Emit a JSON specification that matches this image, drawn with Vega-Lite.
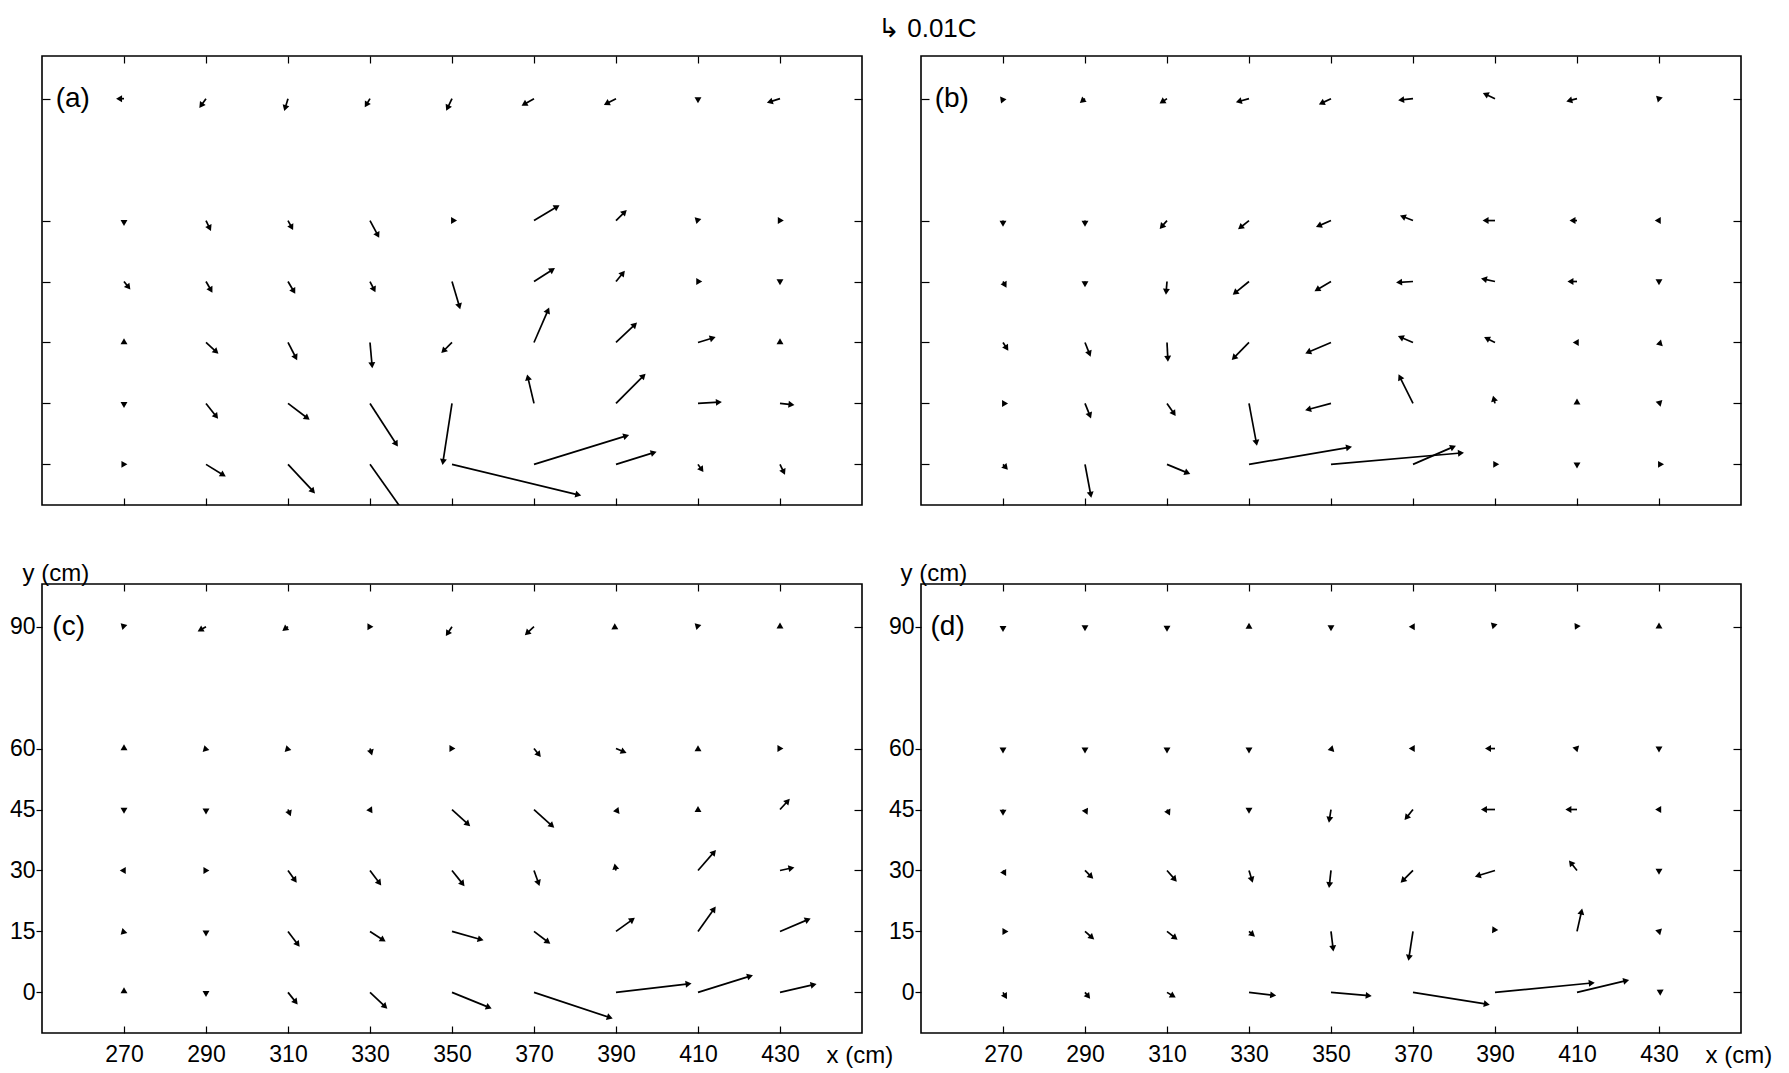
{
  "$schema": "https://vega.github.io/schema/vega-lite/v6.json",
  "background": "white",
  "padding": {"left": 8, "top": 15, "right": 5, "bottom": 5},
  "title": {
    "text": "↳ 0.01C",
    "anchor": "start",
    "frame": "group",
    "dx": 836,
    "offset": -13,
    "baseline": "bottom",
    "font": "Liberation Sans",
    "fontSize": 26,
    "fontWeight": "normal",
    "color": "black"
  },
  "datasets": {
    "vec": [
      {"p":"a","x":270,"y":90,"xe":268.8,"ye":90},
      {"p":"a","x":290,"y":90,"xe":288.8,"ye":88.3},
      {"p":"a","x":310,"y":90,"xe":309.3,"ye":87.7},
      {"p":"a","x":330,"y":90,"xe":329.1,"ye":88.5},
      {"p":"a","x":350,"y":90,"xe":348.9,"ye":87.7},
      {"p":"a","x":370,"y":90,"xe":367.6,"ye":88.6},
      {"p":"a","x":390,"y":90,"xe":387.7,"ye":88.8},
      {"p":"a","x":410,"y":90,"xe":410,"ye":89.6},
      {"p":"a","x":430,"y":90,"xe":427.5,"ye":89.2},
      {"p":"a","x":270,"y":60,"xe":270,"ye":59.4},
      {"p":"a","x":290,"y":60,"xe":290.9,"ye":58.1},
      {"p":"a","x":310,"y":60,"xe":310.9,"ye":58.3},
      {"p":"a","x":330,"y":60,"xe":331.9,"ye":56.4},
      {"p":"a","x":350,"y":60,"xe":350.5,"ye":60},
      {"p":"a","x":370,"y":60,"xe":375.6,"ye":63.4},
      {"p":"a","x":390,"y":60,"xe":392.1,"ye":62.1},
      {"p":"a","x":410,"y":60,"xe":409.7,"ye":60.3},
      {"p":"a","x":430,"y":60,"xe":430.2,"ye":60},
      {"p":"a","x":270,"y":45,"xe":271.1,"ye":43.6},
      {"p":"a","x":290,"y":45,"xe":291.2,"ye":42.9},
      {"p":"a","x":310,"y":45,"xe":311.4,"ye":42.6},
      {"p":"a","x":330,"y":45,"xe":331,"ye":43},
      {"p":"a","x":350,"y":45,"xe":351.8,"ye":38.9},
      {"p":"a","x":370,"y":45,"xe":374.5,"ye":47.9},
      {"p":"a","x":390,"y":45,"xe":391.7,"ye":47.1},
      {"p":"a","x":410,"y":45,"xe":410.3,"ye":45},
      {"p":"a","x":430,"y":45,"xe":430,"ye":44.8},
      {"p":"a","x":270,"y":30,"xe":270,"ye":30.3},
      {"p":"a","x":290,"y":30,"xe":292.5,"ye":27.7},
      {"p":"a","x":310,"y":30,"xe":311.9,"ye":26.3},
      {"p":"a","x":330,"y":30,"xe":330.5,"ye":24.4},
      {"p":"a","x":350,"y":30,"xe":347.9,"ye":27.9},
      {"p":"a","x":370,"y":30,"xe":373.4,"ye":37.9},
      {"p":"a","x":390,"y":30,"xe":394.6,"ye":34.4},
      {"p":"a","x":410,"y":30,"xe":413.6,"ye":31.1},
      {"p":"a","x":430,"y":30,"xe":430,"ye":30.3},
      {"p":"a","x":270,"y":15,"xe":270,"ye":14.6},
      {"p":"a","x":290,"y":15,"xe":292.5,"ye":11.8},
      {"p":"a","x":310,"y":15,"xe":314.7,"ye":11.4},
      {"p":"a","x":330,"y":15,"xe":336.4,"ye":5},
      {"p":"a","x":350,"y":15,"xe":347.8,"ye":0.6},
      {"p":"a","x":370,"y":15,"xe":368.5,"ye":21.4},
      {"p":"a","x":390,"y":15,"xe":396.7,"ye":21.8},
      {"p":"a","x":410,"y":15,"xe":415.1,"ye":15.3},
      {"p":"a","x":430,"y":15,"xe":432.8,"ye":14.7},
      {"p":"a","x":270,"y":0,"xe":270.1,"ye":0},
      {"p":"a","x":290,"y":0,"xe":294.2,"ye":-2.6},
      {"p":"a","x":310,"y":0,"xe":316.1,"ye":-6.6},
      {"p":"a","x":330,"y":0,"xe":339.5,"ye":-13.5},
      {"p":"a","x":350,"y":0,"xe":380.8,"ye":-7.5},
      {"p":"a","x":370,"y":0,"xe":392.5,"ye":7},
      {"p":"a","x":390,"y":0,"xe":399.2,"ye":2.9},
      {"p":"a","x":410,"y":0,"xe":410.9,"ye":-1.3},
      {"p":"a","x":430,"y":0,"xe":430.9,"ye":-1.9},

      {"p":"b","x":270,"y":90,"xe":269.8,"ye":89.5},
      {"p":"b","x":290,"y":90,"xe":289.3,"ye":89.4},
      {"p":"b","x":310,"y":90,"xe":308.8,"ye":89.2},
      {"p":"b","x":330,"y":90,"xe":327.5,"ye":89.3},
      {"p":"b","x":350,"y":90,"xe":347.7,"ye":88.9},
      {"p":"b","x":370,"y":90,"xe":367.1,"ye":89.7},
      {"p":"b","x":390,"y":90,"xe":387.7,"ye":91.1},
      {"p":"b","x":410,"y":90,"xe":408.1,"ye":89.5},
      {"p":"b","x":430,"y":90,"xe":429.8,"ye":90.2},
      {"p":"b","x":270,"y":60,"xe":270,"ye":59.2},
      {"p":"b","x":290,"y":60,"xe":290,"ye":59.2},
      {"p":"b","x":310,"y":60,"xe":308.7,"ye":58.5},
      {"p":"b","x":330,"y":60,"xe":327.9,"ye":58.3},
      {"p":"b","x":350,"y":60,"xe":347,"ye":58.7},
      {"p":"b","x":370,"y":60,"xe":367.5,"ye":61},
      {"p":"b","x":390,"y":60,"xe":387.7,"ye":60},
      {"p":"b","x":410,"y":60,"xe":408.9,"ye":60},
      {"p":"b","x":430,"y":60,"xe":429.7,"ye":60},
      {"p":"b","x":270,"y":45,"xe":270.5,"ye":44.1},
      {"p":"b","x":290,"y":45,"xe":290,"ye":44.3},
      {"p":"b","x":310,"y":45,"xe":309.8,"ye":42.5},
      {"p":"b","x":330,"y":45,"xe":326.6,"ye":42.2},
      {"p":"b","x":350,"y":45,"xe":346.6,"ye":43},
      {"p":"b","x":370,"y":45,"xe":366.6,"ye":44.8},
      {"p":"b","x":390,"y":45,"xe":387.3,"ye":45.6},
      {"p":"b","x":410,"y":45,"xe":408.4,"ye":45},
      {"p":"b","x":430,"y":45,"xe":430,"ye":44.8},
      {"p":"b","x":270,"y":30,"xe":270.9,"ye":28.6},
      {"p":"b","x":290,"y":30,"xe":291.1,"ye":27.2},
      {"p":"b","x":310,"y":30,"xe":310.2,"ye":26},
      {"p":"b","x":330,"y":30,"xe":326.3,"ye":26.2},
      {"p":"b","x":350,"y":30,"xe":344.4,"ye":27.6},
      {"p":"b","x":370,"y":30,"xe":367,"ye":31.3},
      {"p":"b","x":390,"y":30,"xe":388,"ye":31},
      {"p":"b","x":410,"y":30,"xe":409.7,"ye":30},
      {"p":"b","x":430,"y":30,"xe":430.4,"ye":29.6},
      {"p":"b","x":270,"y":15,"xe":270.5,"ye":15},
      {"p":"b","x":290,"y":15,"xe":291.2,"ye":12},
      {"p":"b","x":310,"y":15,"xe":311.7,"ye":12.5},
      {"p":"b","x":330,"y":15,"xe":331.8,"ye":5.3},
      {"p":"b","x":350,"y":15,"xe":344.4,"ye":13.5},
      {"p":"b","x":370,"y":15,"xe":366.8,"ye":21.5},
      {"p":"b","x":390,"y":15,"xe":389.7,"ye":16.2},
      {"p":"b","x":410,"y":15,"xe":410,"ye":15.5},
      {"p":"b","x":430,"y":15,"xe":430.3,"ye":15.3},
      {"p":"b","x":270,"y":0,"xe":270.7,"ye":-0.8},
      {"p":"b","x":290,"y":0,"xe":291.4,"ye":-7.5},
      {"p":"b","x":310,"y":0,"xe":315,"ye":-2.1},
      {"p":"b","x":330,"y":0,"xe":354.4,"ye":4.2},
      {"p":"b","x":350,"y":0,"xe":381.7,"ye":2.8},
      {"p":"b","x":370,"y":0,"xe":379.8,"ye":4.3},
      {"p":"b","x":390,"y":0,"xe":390.3,"ye":0},
      {"p":"b","x":410,"y":0,"xe":410,"ye":-0.3},
      {"p":"b","x":430,"y":0,"xe":430.5,"ye":0},

      {"p":"c","x":270,"y":90,"xe":269.7,"ye":90.3},
      {"p":"c","x":290,"y":90,"xe":288.6,"ye":89.2},
      {"p":"c","x":310,"y":90,"xe":309.2,"ye":89.4},
      {"p":"c","x":330,"y":90,"xe":330.1,"ye":90},
      {"p":"c","x":350,"y":90,"xe":348.9,"ye":88.3},
      {"p":"c","x":370,"y":90,"xe":368.3,"ye":88.4},
      {"p":"c","x":390,"y":90,"xe":389.5,"ye":89.7},
      {"p":"c","x":410,"y":90,"xe":409.7,"ye":90.3},
      {"p":"c","x":430,"y":90,"xe":430,"ye":90.3},
      {"p":"c","x":270,"y":60,"xe":270,"ye":60.3},
      {"p":"c","x":290,"y":60,"xe":289.7,"ye":59.7},
      {"p":"c","x":310,"y":60,"xe":309.7,"ye":59.7},
      {"p":"c","x":330,"y":60,"xe":330.3,"ye":59},
      {"p":"c","x":350,"y":60,"xe":350.1,"ye":60},
      {"p":"c","x":370,"y":60,"xe":371.2,"ye":58.5},
      {"p":"c","x":390,"y":60,"xe":391.9,"ye":59.2},
      {"p":"c","x":410,"y":60,"xe":410,"ye":60.1},
      {"p":"c","x":430,"y":60,"xe":430.1,"ye":60},
      {"p":"c","x":270,"y":45,"xe":270,"ye":44.7},
      {"p":"c","x":290,"y":45,"xe":290,"ye":44.5},
      {"p":"c","x":310,"y":45,"xe":310.4,"ye":44},
      {"p":"c","x":330,"y":45,"xe":330.2,"ye":44.7},
      {"p":"c","x":350,"y":45,"xe":353.9,"ye":41.4},
      {"p":"c","x":370,"y":45,"xe":374.4,"ye":41},
      {"p":"c","x":390,"y":45,"xe":390.4,"ye":44.5},
      {"p":"c","x":410,"y":45,"xe":410,"ye":45.1},
      {"p":"c","x":430,"y":45,"xe":431.9,"ye":47.1},
      {"p":"c","x":270,"y":30,"xe":269.7,"ye":30},
      {"p":"c","x":290,"y":30,"xe":290.1,"ye":30},
      {"p":"c","x":310,"y":30,"xe":311.7,"ye":27.6},
      {"p":"c","x":330,"y":30,"xe":332.3,"ye":26.9},
      {"p":"c","x":350,"y":30,"xe":352.6,"ye":26.7},
      {"p":"c","x":370,"y":30,"xe":371.1,"ye":26.9},
      {"p":"c","x":390,"y":30,"xe":389.8,"ye":31},
      {"p":"c","x":410,"y":30,"xe":413.9,"ye":34.5},
      {"p":"c","x":430,"y":30,"xe":432.8,"ye":30.6},
      {"p":"c","x":270,"y":15,"xe":269.7,"ye":14.7},
      {"p":"c","x":290,"y":15,"xe":290,"ye":14.5},
      {"p":"c","x":310,"y":15,"xe":312.4,"ye":11.8},
      {"p":"c","x":330,"y":15,"xe":333.2,"ye":12.9},
      {"p":"c","x":350,"y":15,"xe":357,"ye":13},
      {"p":"c","x":370,"y":15,"xe":373.4,"ye":12.4},
      {"p":"c","x":390,"y":15,"xe":394,"ye":17.9},
      {"p":"c","x":410,"y":15,"xe":413.9,"ye":20.5},
      {"p":"c","x":430,"y":15,"xe":436.8,"ye":17.9},
      {"p":"c","x":270,"y":0,"xe":270,"ye":0.5},
      {"p":"c","x":290,"y":0,"xe":290,"ye":-0.4},
      {"p":"c","x":310,"y":0,"xe":311.9,"ye":-2.4},
      {"p":"c","x":330,"y":0,"xe":333.7,"ye":-3.5},
      {"p":"c","x":350,"y":0,"xe":359,"ye":-3.7},
      {"p":"c","x":370,"y":0,"xe":388.5,"ye":-6.2},
      {"p":"c","x":390,"y":0,"xe":407.7,"ye":2.1},
      {"p":"c","x":410,"y":0,"xe":422.7,"ye":4},
      {"p":"c","x":430,"y":0,"xe":438.2,"ye":1.9},

      {"p":"d","x":270,"y":90,"xe":270,"ye":89.4},
      {"p":"d","x":290,"y":90,"xe":290,"ye":89.6},
      {"p":"d","x":310,"y":90,"xe":310,"ye":89.5},
      {"p":"d","x":330,"y":90,"xe":330,"ye":90.2},
      {"p":"d","x":350,"y":90,"xe":350,"ye":89.6},
      {"p":"d","x":370,"y":90,"xe":369.7,"ye":90},
      {"p":"d","x":390,"y":90,"xe":389.5,"ye":90.5},
      {"p":"d","x":410,"y":90,"xe":409.8,"ye":90.3},
      {"p":"d","x":430,"y":90,"xe":430,"ye":90.3},
      {"p":"d","x":270,"y":60,"xe":270,"ye":59.5},
      {"p":"d","x":290,"y":60,"xe":290,"ye":59.5},
      {"p":"d","x":310,"y":60,"xe":310,"ye":59.5},
      {"p":"d","x":330,"y":60,"xe":330,"ye":59.5},
      {"p":"d","x":350,"y":60,"xe":350.3,"ye":59.7},
      {"p":"d","x":370,"y":60,"xe":369.7,"ye":60},
      {"p":"d","x":390,"y":60,"xe":388.3,"ye":60},
      {"p":"d","x":410,"y":60,"xe":409.6,"ye":60.1},
      {"p":"d","x":430,"y":60,"xe":430,"ye":59.8},
      {"p":"d","x":270,"y":45,"xe":270,"ye":44.2},
      {"p":"d","x":290,"y":45,"xe":290.3,"ye":44.4},
      {"p":"d","x":310,"y":45,"xe":310.4,"ye":44.2},
      {"p":"d","x":330,"y":45,"xe":330,"ye":44.7},
      {"p":"d","x":350,"y":45,"xe":349.6,"ye":42.5},
      {"p":"d","x":370,"y":45,"xe":368.4,"ye":43},
      {"p":"d","x":390,"y":45,"xe":387.3,"ye":45},
      {"p":"d","x":410,"y":45,"xe":407.9,"ye":45},
      {"p":"d","x":430,"y":45,"xe":429.8,"ye":45},
      {"p":"d","x":270,"y":30,"xe":270.4,"ye":29.3},
      {"p":"d","x":290,"y":30,"xe":291.5,"ye":28.5},
      {"p":"d","x":310,"y":30,"xe":311.9,"ye":27.8},
      {"p":"d","x":330,"y":30,"xe":330.7,"ye":27.7},
      {"p":"d","x":350,"y":30,"xe":349.6,"ye":26.4},
      {"p":"d","x":370,"y":30,"xe":367.5,"ye":27.5},
      {"p":"d","x":390,"y":30,"xe":385.8,"ye":28.7},
      {"p":"d","x":410,"y":30,"xe":408.5,"ye":31.9},
      {"p":"d","x":430,"y":30,"xe":430,"ye":29.7},
      {"p":"d","x":270,"y":15,"xe":270.6,"ye":15},
      {"p":"d","x":290,"y":15,"xe":291.7,"ye":13.5},
      {"p":"d","x":310,"y":15,"xe":312,"ye":13.4},
      {"p":"d","x":330,"y":15,"xe":330.9,"ye":14.2},
      {"p":"d","x":350,"y":15,"xe":350.5,"ye":10.8},
      {"p":"d","x":370,"y":15,"xe":369,"ye":8.5},
      {"p":"d","x":390,"y":15,"xe":389.7,"ye":15.6},
      {"p":"d","x":410,"y":15,"xe":411.1,"ye":19.9},
      {"p":"d","x":430,"y":15,"xe":430.2,"ye":15.2},
      {"p":"d","x":270,"y":0,"xe":270.6,"ye":-1},
      {"p":"d","x":290,"y":0,"xe":290.8,"ye":-1},
      {"p":"d","x":310,"y":0,"xe":311.5,"ye":-0.9},
      {"p":"d","x":330,"y":0,"xe":335.9,"ye":-0.7},
      {"p":"d","x":350,"y":0,"xe":359.2,"ye":-0.8},
      {"p":"d","x":370,"y":0,"xe":388,"ye":-2.9},
      {"p":"d","x":390,"y":0,"xe":413.6,"ye":2.3},
      {"p":"d","x":410,"y":0,"xe":422,"ye":2.9},
      {"p":"d","x":430,"y":0,"xe":430.5,"ye":0.3}
    ]
  },
  "columns": 2,
  "bounds": "flush",
  "spacing": {"row": 79, "column": 59},
  "concat": [
    {
      "width": 820, "height": 449,
      "layer": [
        {
          "data": {"name": "vec"},
          "transform": [{"filter": "datum.p === 'a'"}],
          "mark": {"type": "rule", "clip": true, "color": "black", "strokeWidth": 1.7},
          "encoding": {
            "x": {"field": "x", "type": "quantitative", "scale": {"domain": [250, 450], "nice": false, "zero": false},
                  "axis": {"orient": "bottom", "values": [270, 290, 310, 330, 350, 370, 390, 410, 430], "labels": false, "tickSize": -7, "title": null}},
            "y": {"field": "y", "type": "quantitative", "scale": {"domain": [-10, 100.5], "nice": false, "zero": false},
                  "axis": {"orient": "left", "values": [0, 15, 30, 45, 60, 90], "labels": false, "tickSize": -8, "title": null}},
            "x2": {"field": "xe"},
            "y2": {"field": "ye"}
          }
        },
        {
          "data": {"name": "vec"},
          "transform": [
            {"filter": "datum.p === 'a'"},
            {"calculate": "atan2(datum.xe - datum.x, datum.ye - datum.y) * 180 / PI", "as": "ang"}
          ],
          "mark": {"type": "point", "shape": "triangle-up", "filled": true, "clip": true, "color": "black", "opacity": 1, "size": 48, "strokeWidth": 0},
          "encoding": {
            "x": {"field": "xe", "type": "quantitative",
                  "axis": {"orient": "top", "values": [270, 290, 310, 330, 350, 370, 390, 410, 430], "labels": false, "tickSize": -7, "title": null}},
            "y": {"field": "ye", "type": "quantitative",
                  "axis": {"orient": "right", "values": [0, 15, 30, 45, 60, 90], "labels": false, "tickSize": -8, "title": null}},
            "angle": {"field": "ang", "type": "quantitative", "scale": null}
          }
        },
        {
          "data": {"values": [{"t": "(a)"}]},
          "mark": {"type": "text", "font": "Liberation Sans", "fontSize": 28, "color": "black", "align": "center", "baseline": "middle"},
          "encoding": {
            "x": {"datum": 257.5, "type": "quantitative", "axis": null},
            "y": {"datum": 90, "type": "quantitative", "axis": null},
            "text": {"field": "t"}
          }
        }
      ],
      "resolve": {"axis": {"x": "independent", "y": "independent"}}
    },
    {
      "width": 820, "height": 449,
      "layer": [
        {
          "data": {"name": "vec"},
          "transform": [{"filter": "datum.p === 'b'"}],
          "mark": {"type": "rule", "clip": true, "color": "black", "strokeWidth": 1.7},
          "encoding": {
            "x": {"field": "x", "type": "quantitative", "scale": {"domain": [250, 450], "nice": false, "zero": false},
                  "axis": {"orient": "bottom", "values": [270, 290, 310, 330, 350, 370, 390, 410, 430], "labels": false, "tickSize": -7, "title": null}},
            "y": {"field": "y", "type": "quantitative", "scale": {"domain": [-10, 100.5], "nice": false, "zero": false},
                  "axis": {"orient": "left", "values": [0, 15, 30, 45, 60, 90], "labels": false, "tickSize": -8, "title": null}},
            "x2": {"field": "xe"},
            "y2": {"field": "ye"}
          }
        },
        {
          "data": {"name": "vec"},
          "transform": [
            {"filter": "datum.p === 'b'"},
            {"calculate": "atan2(datum.xe - datum.x, datum.ye - datum.y) * 180 / PI", "as": "ang"}
          ],
          "mark": {"type": "point", "shape": "triangle-up", "filled": true, "clip": true, "color": "black", "opacity": 1, "size": 48, "strokeWidth": 0},
          "encoding": {
            "x": {"field": "xe", "type": "quantitative",
                  "axis": {"orient": "top", "values": [270, 290, 310, 330, 350, 370, 390, 410, 430], "labels": false, "tickSize": -7, "title": null}},
            "y": {"field": "ye", "type": "quantitative",
                  "axis": {"orient": "right", "values": [0, 15, 30, 45, 60, 90], "labels": false, "tickSize": -8, "title": null}},
            "angle": {"field": "ang", "type": "quantitative", "scale": null}
          }
        },
        {
          "data": {"values": [{"t": "(b)"}]},
          "mark": {"type": "text", "font": "Liberation Sans", "fontSize": 28, "color": "black", "align": "center", "baseline": "middle"},
          "encoding": {
            "x": {"datum": 257.5, "type": "quantitative", "axis": null},
            "y": {"datum": 90, "type": "quantitative", "axis": null},
            "text": {"field": "t"}
          }
        }
      ],
      "resolve": {"axis": {"x": "independent", "y": "independent"}}
    },
    {
      "width": 820, "height": 449,
      "layer": [
        {
          "data": {"name": "vec"},
          "transform": [{"filter": "datum.p === 'c'"}],
          "mark": {"type": "rule", "clip": true, "color": "black", "strokeWidth": 1.7},
          "encoding": {
            "x": {"field": "x", "type": "quantitative", "scale": {"domain": [250, 450], "nice": false, "zero": false},
                  "axis": {"orient": "bottom", "values": [270, 290, 310, 330, 350, 370, 390, 410, 430], "tickSize": -7, "labelPadding": 17,
                           "title": "x (cm)", "titleX": 784, "titleY": 29, "titleAlign": "left", "titleBaseline": "alphabetic"}},
            "y": {"field": "y", "type": "quantitative", "scale": {"domain": [-10, 100.5], "nice": false, "zero": false},
                  "axis": {"orient": "left", "values": [0, 15, 30, 45, 60, 90], "tickSize": 6, "labelPadding": 1,
                           "title": "y (cm)", "titleX": -20, "titleY": -4, "titleAngle": 0, "titleAlign": "left", "titleBaseline": "alphabetic"}},
            "x2": {"field": "xe"},
            "y2": {"field": "ye"}
          }
        },
        {
          "data": {"name": "vec"},
          "transform": [
            {"filter": "datum.p === 'c'"},
            {"calculate": "atan2(datum.xe - datum.x, datum.ye - datum.y) * 180 / PI", "as": "ang"}
          ],
          "mark": {"type": "point", "shape": "triangle-up", "filled": true, "clip": true, "color": "black", "opacity": 1, "size": 48, "strokeWidth": 0},
          "encoding": {
            "x": {"field": "xe", "type": "quantitative",
                  "axis": {"orient": "top", "values": [270, 290, 310, 330, 350, 370, 390, 410, 430], "labels": false, "tickSize": -7, "title": null}},
            "y": {"field": "ye", "type": "quantitative",
                  "axis": {"orient": "right", "values": [0, 15, 30, 45, 60, 90], "labels": false, "tickSize": -8, "title": null}},
            "angle": {"field": "ang", "type": "quantitative", "scale": null}
          }
        },
        {
          "data": {"values": [{"t": "(c)"}]},
          "mark": {"type": "text", "font": "Liberation Sans", "fontSize": 28, "color": "black", "align": "center", "baseline": "middle"},
          "encoding": {
            "x": {"datum": 256.5, "type": "quantitative", "axis": null},
            "y": {"datum": 90, "type": "quantitative", "axis": null},
            "text": {"field": "t"}
          }
        }
      ],
      "resolve": {"axis": {"x": "independent", "y": "independent"}}
    },
    {
      "width": 820, "height": 449,
      "layer": [
        {
          "data": {"name": "vec"},
          "transform": [{"filter": "datum.p === 'd'"}],
          "mark": {"type": "rule", "clip": true, "color": "black", "strokeWidth": 1.7},
          "encoding": {
            "x": {"field": "x", "type": "quantitative", "scale": {"domain": [250, 450], "nice": false, "zero": false},
                  "axis": {"orient": "bottom", "values": [270, 290, 310, 330, 350, 370, 390, 410, 430], "tickSize": -7, "labelPadding": 17,
                           "title": "x (cm)", "titleX": 784, "titleY": 29, "titleAlign": "left", "titleBaseline": "alphabetic"}},
            "y": {"field": "y", "type": "quantitative", "scale": {"domain": [-10, 100.5], "nice": false, "zero": false},
                  "axis": {"orient": "left", "values": [0, 15, 30, 45, 60, 90], "tickSize": 6, "labelPadding": 1,
                           "title": "y (cm)", "titleX": -21, "titleY": -4, "titleAngle": 0, "titleAlign": "left", "titleBaseline": "alphabetic"}},
            "x2": {"field": "xe"},
            "y2": {"field": "ye"}
          }
        },
        {
          "data": {"name": "vec"},
          "transform": [
            {"filter": "datum.p === 'd'"},
            {"calculate": "atan2(datum.xe - datum.x, datum.ye - datum.y) * 180 / PI", "as": "ang"}
          ],
          "mark": {"type": "point", "shape": "triangle-up", "filled": true, "clip": true, "color": "black", "opacity": 1, "size": 48, "strokeWidth": 0},
          "encoding": {
            "x": {"field": "xe", "type": "quantitative",
                  "axis": {"orient": "top", "values": [270, 290, 310, 330, 350, 370, 390, 410, 430], "labels": false, "tickSize": -7, "title": null}},
            "y": {"field": "ye", "type": "quantitative",
                  "axis": {"orient": "right", "values": [0, 15, 30, 45, 60, 90], "labels": false, "tickSize": -8, "title": null}},
            "angle": {"field": "ang", "type": "quantitative", "scale": null}
          }
        },
        {
          "data": {"values": [{"t": "(d)"}]},
          "mark": {"type": "text", "font": "Liberation Sans", "fontSize": 28, "color": "black", "align": "center", "baseline": "middle"},
          "encoding": {
            "x": {"datum": 256.5, "type": "quantitative", "axis": null},
            "y": {"datum": 90, "type": "quantitative", "axis": null},
            "text": {"field": "t"}
          }
        }
      ],
      "resolve": {"axis": {"x": "independent", "y": "independent"}}
    }
  ],
  "config": {
    "view": {"stroke": "black", "strokeWidth": 1.6},
    "axis": {
      "grid": false,
      "domain": false,
      "tickColor": "black",
      "tickWidth": 1.2,
      "labelFont": "Liberation Sans",
      "labelFontSize": 23,
      "labelColor": "black",
      "titleFont": "Liberation Sans",
      "titleFontSize": 24,
      "titleFontWeight": "normal",
      "titleColor": "black"
    }
  }
}
